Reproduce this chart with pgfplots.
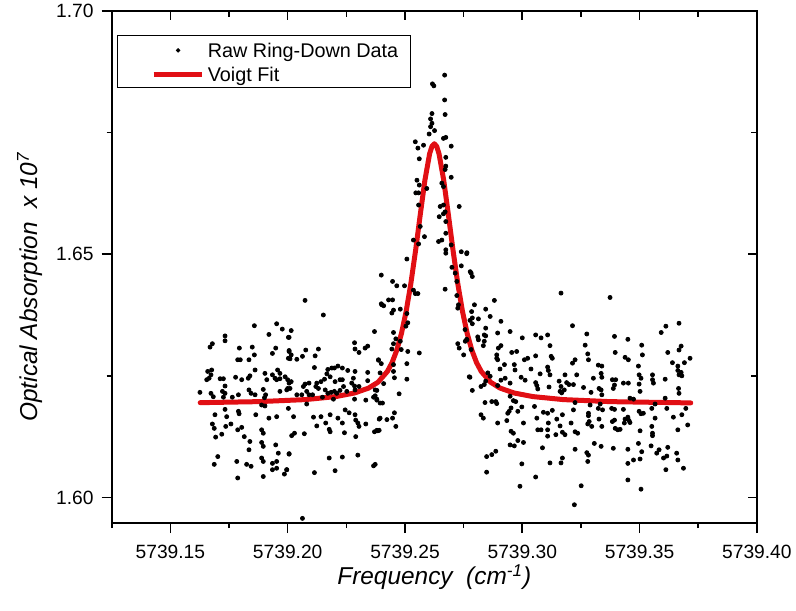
\documentclass[border=0pt]{standalone}
\usepackage{fontspec}
\setmainfont{Liberation Sans}
\usepackage{pgfplots}
\pgfplotsset{compat=1.18}
\definecolor{fitred}{RGB}{225,15,20}
% x values are given as (frequency - 5739) cm^-1 to keep full precision
\begin{document}
\begin{tikzpicture}
\begin{axis}[
  name=main,
  scale only axis,
  width=322.5pt, height=256pt,
  xmin=0.125, xmax=0.400,
  ymin=1.59474, ymax=1.70,
  axis line style={line width=0.8pt},
  tick style={line width=0.8pt, black},
  major tick length=5pt, minor tick length=2.5pt,
  tick align=outside,
  tick pos=left,
  xtick={0.15,0.20,0.25,0.30,0.35,0.40},
  xticklabels={5739.15,5739.20,5739.25,5739.30,5739.35,5739.40},
  minor xtick={0.125,0.175,0.225,0.275,0.325,0.375},
  ytick={1.60,1.65,1.70},
  yticklabels={1.60,1.65,1.70},
  minor ytick={1.625,1.675},
  ticklabel style={font=\fontsize{9.6}{11}\selectfont},
  xticklabel style={yshift=-2.6pt},
  yticklabel style={xshift=-0.6pt},
  xlabel={Frequency\ \ (cm\textsuperscript{-1})},
  ylabel={Optical Absorption\ \ x 10\textsuperscript{7}},
  label style={font=\fontsize{12.2}{14}\selectfont\itshape},
  xlabel style={at={(rel axis cs:0.5,-0.1059)},anchor=center},
  ylabel style={at={(rel axis cs:-0.1267,0.461)},anchor=center},
  legend style={
    at={(rel axis cs:0.0087,0.952)}, anchor=north west,
    draw=black, line width=0.5pt,
    inner xsep=6pt, inner ysep=1.8pt,
    row sep=2.9pt, column sep=1.5pt,
    cells={anchor=base west},
    nodes={inner sep=0pt, text height=8.9pt, text depth=0pt, font=\fontsize{9.9}{11}\selectfont},
  },
]
\addplot[only marks, mark=*, mark size=1pt, mark options={draw=none, fill=black},
  legend image code/.code={
    \path (-10.7pt,0pt) (24.3pt,0pt);
    \draw[mark repeat=2,mark phase=2,mark size=0.8pt] plot coordinates {(0pt,3.5pt) (12.2pt,3.5pt) (24.3pt,3.5pt)};
  }] table {
x y
0.1858 1.6353
0.1953 1.6357
0.1977 1.6346
0.1920 1.6335
0.1733 1.6332
0.1733 1.6322
0.1679 1.6316
0.1669 1.6309
0.1794 1.6307
0.1849 1.6309
0.1949 1.6307
0.2003 1.6329
0.2006 1.6302
0.2003 1.6286
0.1787 1.6283
0.1798 1.6283
0.1835 1.6283
0.1858 1.6293
0.1935 1.6296
0.1676 1.6262
0.1659 1.6259
0.1673 1.6252
0.1665 1.6245
0.1655 1.6242
0.1712 1.6244
0.1726 1.6244
0.1733 1.6229
0.1778 1.6247
0.1804 1.6242
0.1832 1.6245
0.1839 1.6250
0.1861 1.6262
0.1903 1.6255
0.1911 1.6242
0.1935 1.6252
0.1946 1.6245
0.1957 1.6262
0.1967 1.6255
0.1967 1.6244
0.1953 1.6242
0.1989 1.6248
0.2000 1.6224
0.1626 1.6216
0.1673 1.6214
0.1683 1.6207
0.1722 1.6218
0.1726 1.6206
0.1733 1.6214
0.1764 1.6206
0.1790 1.6211
0.1835 1.6221
0.1844 1.6214
0.1861 1.6211
0.1896 1.6222
0.1906 1.6211
0.1901 1.6205
0.1967 1.6218
0.1996 1.6221
0.1733 1.6181
0.1740 1.6166
0.1690 1.6170
0.1790 1.6177
0.1793 1.6172
0.1864 1.6170
0.1889 1.6190
0.1903 1.6188
0.1920 1.6163
0.1953 1.6166
0.1679 1.6151
0.1687 1.6142
0.1693 1.6124
0.1719 1.6130
0.1736 1.6146
0.1758 1.6151
0.1787 1.6139
0.1804 1.6144
0.1815 1.6125
0.1839 1.6115
0.1835 1.6098
0.1889 1.6139
0.1896 1.6132
0.1889 1.6113
0.1896 1.6105
0.1949 1.6108
0.1960 1.6091
0.2006 1.6090
0.1702 1.6084
0.1687 1.6068
0.1783 1.6074
0.1825 1.6068
0.1844 1.6064
0.1889 1.6081
0.1896 1.6074
0.1935 1.6070
0.1953 1.6074
0.1953 1.6060
0.1935 1.6057
0.1996 1.6057
0.1986 1.6048
0.1787 1.6040
0.1896 1.6043
0.2074 1.6405
0.2152 1.6375
0.2401 1.6396
0.2015 1.6343
0.2006 1.6329
0.2370 1.6341
0.2006 1.6300
0.2015 1.6293
0.2010 1.6285
0.2039 1.6284
0.2063 1.6290
0.2077 1.6303
0.2131 1.6305
0.2117 1.6291
0.2285 1.6318
0.2287 1.6305
0.2304 1.6298
0.2330 1.6307
0.2341 1.6311
0.2387 1.6283
0.2114 1.6267
0.2171 1.6263
0.2188 1.6266
0.2199 1.6266
0.2214 1.6270
0.2233 1.6266
0.2256 1.6261
0.2167 1.6254
0.2181 1.6248
0.2202 1.6238
0.2223 1.6242
0.2233 1.6242
0.2280 1.6245
0.2287 1.6259
0.2341 1.6257
0.2000 1.6242
0.2006 1.6235
0.2015 1.6238
0.2074 1.6233
0.2091 1.6235
0.2124 1.6235
0.2142 1.6238
0.2157 1.6243
0.2010 1.6224
0.2067 1.6228
0.2081 1.6218
0.2091 1.6211
0.2120 1.6228
0.2131 1.6224
0.2160 1.6221
0.2171 1.6214
0.2185 1.6216
0.2199 1.6218
0.2209 1.6214
0.2223 1.6220
0.2238 1.6228
0.2252 1.6218
0.2273 1.6235
0.2285 1.6229
0.2287 1.6221
0.2304 1.6228
0.2341 1.6240
0.2039 1.6211
0.2060 1.6211
0.2106 1.6211
0.2148 1.6206
0.2373 1.6221
0.2366 1.6206
0.2380 1.6200
0.2003 1.6183
0.2081 1.6192
0.2195 1.6202
0.2285 1.6202
0.2333 1.6200
0.2025 1.6166
0.2110 1.6165
0.2124 1.6147
0.2142 1.6166
0.2162 1.6153
0.2181 1.6170
0.2177 1.6140
0.2181 1.6135
0.2214 1.6163
0.2233 1.6153
0.2242 1.6133
0.2245 1.6180
0.2262 1.6174
0.2287 1.6170
0.2290 1.6159
0.2299 1.6153
0.2304 1.6146
0.2333 1.6151
0.2390 1.6161
0.2370 1.6135
0.2384 1.6137
0.2017 1.6127
0.2029 1.6132
0.2071 1.6131
0.2290 1.6125
0.2006 1.6089
0.1996 1.6057
0.2114 1.6051
0.2177 1.6081
0.2233 1.6083
0.2202 1.6055
0.2299 1.6087
0.2366 1.6065
0.2063 1.5957
0.2669 1.6868
0.2617 1.6850
0.2623 1.6846
0.2669 1.6817
0.2671 1.6787
0.2615 1.6789
0.2609 1.6778
0.2615 1.6769
0.2609 1.6762
0.2626 1.6754
0.2603 1.6747
0.2664 1.6738
0.2674 1.6740
0.2544 1.6731
0.2555 1.6718
0.2579 1.6724
0.2697 1.6722
0.2674 1.6699
0.2561 1.6696
0.2674 1.6681
0.2671 1.6674
0.2697 1.6658
0.2551 1.6652
0.2561 1.6642
0.2546 1.6626
0.2558 1.6626
0.2593 1.6635
0.2657 1.6646
0.2664 1.6639
0.2558 1.6601
0.2650 1.6598
0.2664 1.6601
0.2671 1.6587
0.2664 1.6583
0.2646 1.6577
0.2731 1.6598
0.2565 1.6557
0.2674 1.6567
0.2583 1.6536
0.2674 1.6543
0.2536 1.6529
0.2558 1.6521
0.2643 1.6526
0.2657 1.6529
0.2697 1.6519
0.2508 1.6490
0.2674 1.6509
0.2674 1.6502
0.2740 1.6505
0.2764 1.6503
0.2399 1.6457
0.2447 1.6444
0.2465 1.6435
0.2498 1.6435
0.2536 1.6426
0.2700 1.6473
0.2714 1.6461
0.2740 1.6476
0.2778 1.6464
0.2671 1.6428
0.2721 1.6444
0.2399 1.6398
0.2409 1.6394
0.2430 1.6406
0.2447 1.6406
0.2451 1.6385
0.2444 1.6379
0.2480 1.6387
0.2508 1.6378
0.2512 1.6359
0.2504 1.6352
0.2544 1.6419
0.2555 1.6419
0.2451 1.6339
0.2451 1.6316
0.2461 1.6326
0.2480 1.6321
0.2444 1.6305
0.2484 1.6304
0.2512 1.6300
0.2561 1.6297
0.2387 1.6282
0.2399 1.6275
0.2394 1.6256
0.2451 1.6273
0.2451 1.6259
0.2455 1.6246
0.2508 1.6275
0.2508 1.6243
0.2409 1.6234
0.2380 1.6220
0.2373 1.6209
0.2380 1.6202
0.2394 1.6194
0.2404 1.6194
0.2475 1.6213
0.2394 1.6163
0.2423 1.6160
0.2447 1.6163
0.2455 1.6174
0.2461 1.6146
0.2380 1.6138
0.2390 1.6138
0.2373 1.6068
0.2721 1.6415
0.2728 1.6396
0.2725 1.6389
0.2764 1.6324
0.2757 1.6321
0.2725 1.6316
0.2731 1.6307
0.2750 1.6293
0.2774 1.6248
0.2763 1.6501
0.2782 1.6461
0.2787 1.6454
0.3165 1.6420
0.2881 1.6405
0.2844 1.6387
0.2863 1.6372
0.2796 1.6396
0.2784 1.6382
0.2787 1.6369
0.2777 1.6364
0.2787 1.6357
0.2813 1.6367
0.2909 1.6362
0.2844 1.6348
0.2756 1.6345
0.2763 1.6325
0.2810 1.6330
0.2813 1.6324
0.2838 1.6334
0.2844 1.6332
0.2834 1.6312
0.2838 1.6321
0.2895 1.6338
0.2948 1.6341
0.3000 1.6328
0.3057 1.6334
0.3080 1.6328
0.3108 1.6334
0.3214 1.6353
0.2782 1.6304
0.2898 1.6307
0.2909 1.6312
0.2891 1.6293
0.2891 1.6286
0.2895 1.6283
0.2955 1.6298
0.2976 1.6300
0.3009 1.6283
0.3023 1.6286
0.3057 1.6291
0.3118 1.6312
0.3123 1.6290
0.3128 1.6286
0.2924 1.6273
0.2905 1.6264
0.2966 1.6273
0.2969 1.6262
0.3037 1.6264
0.3076 1.6254
0.3108 1.6268
0.3111 1.6261
0.3118 1.6252
0.3182 1.6252
0.3214 1.6276
0.2777 1.6247
0.2824 1.6228
0.2838 1.6232
0.2844 1.6239
0.2853 1.6256
0.2863 1.6249
0.2895 1.6230
0.2909 1.6241
0.2927 1.6245
0.2948 1.6235
0.2995 1.6247
0.3012 1.6241
0.3057 1.6236
0.3062 1.6230
0.3066 1.6223
0.3114 1.6227
0.3157 1.6239
0.3165 1.6228
0.3161 1.6218
0.3168 1.6215
0.3179 1.6221
0.3189 1.6236
0.3199 1.6232
0.3218 1.6232
0.2787 1.6220
0.2841 1.6195
0.2870 1.6197
0.2887 1.6197
0.2891 1.6193
0.2948 1.6208
0.2962 1.6199
0.2972 1.6197
0.2998 1.6186
0.2952 1.6184
0.2944 1.6177
0.2938 1.6173
0.2981 1.6177
0.3005 1.6153
0.2934 1.6158
0.2895 1.6153
0.2824 1.6170
0.2834 1.6163
0.3052 1.6187
0.3062 1.6163
0.3090 1.6175
0.3108 1.6173
0.3111 1.6153
0.3128 1.6179
0.3108 1.6139
0.3147 1.6161
0.3161 1.6147
0.3171 1.6170
0.3171 1.6134
0.3182 1.6129
0.3143 1.6129
0.3208 1.6153
0.3218 1.6180
0.3066 1.6139
0.3080 1.6139
0.2952 1.6136
0.2962 1.6132
0.2981 1.6117
0.2966 1.6106
0.2948 1.6108
0.3005 1.6113
0.3086 1.6102
0.3108 1.6126
0.2848 1.6084
0.2870 1.6088
0.2887 1.6095
0.2848 1.6052
0.2998 1.6069
0.3057 1.6042
0.3118 1.6071
0.3165 1.6071
0.3171 1.6081
0.2990 1.6023
0.3222 1.5985
0.3374 1.6411
0.3668 1.6358
0.3612 1.6352
0.3592 1.6339
0.3275 1.6336
0.3393 1.6331
0.3450 1.6325
0.3268 1.6313
0.3279 1.6295
0.3282 1.6283
0.3396 1.6298
0.3438 1.6288
0.3452 1.6283
0.3509 1.6313
0.3512 1.6293
0.3620 1.6298
0.3668 1.6303
0.3677 1.6311
0.3715 1.6286
0.3640 1.6277
0.3663 1.6270
0.3691 1.6277
0.3225 1.6283
0.3232 1.6252
0.3303 1.6245
0.3324 1.6272
0.3339 1.6270
0.3336 1.6255
0.3339 1.6247
0.3495 1.6270
0.3498 1.6252
0.3506 1.6245
0.3555 1.6252
0.3555 1.6242
0.3609 1.6243
0.3663 1.6261
0.3668 1.6252
0.3680 1.6250
0.3677 1.6257
0.3261 1.6226
0.3293 1.6216
0.3327 1.6224
0.3336 1.6221
0.3339 1.6211
0.3384 1.6242
0.3393 1.6231
0.3388 1.6224
0.3398 1.6242
0.3431 1.6235
0.3452 1.6235
0.3498 1.6233
0.3502 1.6218
0.3559 1.6235
0.3666 1.6224
0.3668 1.6214
0.3225 1.6195
0.3289 1.6190
0.3324 1.6183
0.3332 1.6192
0.3342 1.6180
0.3381 1.6183
0.3393 1.6181
0.3431 1.6181
0.3459 1.6204
0.3474 1.6202
0.3498 1.6177
0.3506 1.6172
0.3516 1.6173
0.3552 1.6183
0.3566 1.6192
0.3609 1.6204
0.3616 1.6183
0.3697 1.6183
0.3680 1.6170
0.3225 1.6135
0.3236 1.6132
0.3282 1.6173
0.3282 1.6168
0.3285 1.6156
0.3279 1.6151
0.3296 1.6146
0.3327 1.6161
0.3339 1.6146
0.3384 1.6156
0.3393 1.6159
0.3396 1.6142
0.3407 1.6139
0.3417 1.6140
0.3438 1.6161
0.3450 1.6165
0.3455 1.6158
0.3459 1.6154
0.3435 1.6153
0.3502 1.6137
0.3552 1.6146
0.3566 1.6163
0.3555 1.6132
0.3555 1.6127
0.3644 1.6165
0.3663 1.6139
0.3705 1.6149
0.3225 1.6099
0.3275 1.6092
0.3282 1.6087
0.3279 1.6074
0.3307 1.6111
0.3336 1.6105
0.3388 1.6101
0.3450 1.6099
0.3495 1.6111
0.3509 1.6094
0.3549 1.6106
0.3573 1.6091
0.3583 1.6098
0.3602 1.6081
0.3616 1.6085
0.3620 1.6103
0.3658 1.6091
0.3663 1.6077
0.3687 1.6060
0.3450 1.6070
0.3474 1.6077
0.3502 1.6079
0.3612 1.6057
0.3251 1.6024
0.3450 1.6036
0.3506 1.6017
};
\addlegendentry{Raw Ring-Down Data}
\addplot[fitred, line width=2.5pt, line join=round, line cap=round,
  legend image code/.code={
    \path (-10.7pt,0pt) (24.3pt,0pt);
    \draw[line cap=butt, line width=2.1pt] (0pt,3.5pt) -- (24.3pt,3.5pt);
  }] table {
x y
0.1627 1.61948
0.1875 1.61969
0.2075 1.62011
0.2205 1.62073
0.2285 1.62147
0.2345 1.62248
0.2385 1.62368
0.2425 1.62590
0.2445 1.62772
0.2465 1.63026
0.2485 1.63372
0.2505 1.63826
0.2525 1.64396
0.2545 1.65071
0.2565 1.65809
0.2585 1.66523
0.2605 1.67064
0.2615 1.67217
0.2625 1.67270
0.2635 1.67217
0.2645 1.67064
0.2665 1.66523
0.2685 1.65809
0.2705 1.65071
0.2725 1.64396
0.2745 1.63826
0.2765 1.63372
0.2785 1.63026
0.2805 1.62772
0.2825 1.62590
0.2865 1.62368
0.2905 1.62248
0.2965 1.62147
0.3045 1.62073
0.3175 1.62011
0.3375 1.61969
0.3718 1.61943
};
\addlegendentry{Voigt Fit}
\end{axis}
\begin{axis}[
  scale only axis,
  width=322.5pt, height=256pt,
  xmin=0.125, xmax=0.400,
  ymin=1.59474, ymax=1.70,
  axis line style={line width=0.8pt},
  tick style={line width=0.8pt, black},
  major tick length=4.5pt, minor tick length=3pt,
  tick align=inside,
  tick pos=right,
  xtick={0.15,0.20,0.25,0.30,0.35,0.40},
  minor xtick={0.125,0.175,0.225,0.275,0.325,0.375},
  ytick={1.60,1.65,1.70},
  minor ytick={1.625,1.675},
  xticklabels={}, yticklabels={},
]
\end{axis}
\pgfresetboundingbox
\path ([xshift=-55.85pt,yshift=-43.85pt]main.south west) rectangle ([xshift=19.55pt,yshift=5.45pt]main.north east);
\end{tikzpicture}
\end{document}
